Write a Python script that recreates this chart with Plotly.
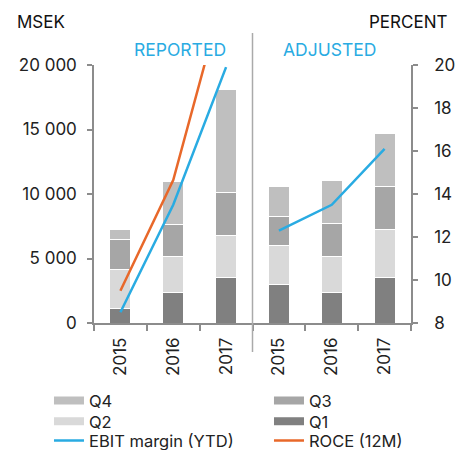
import plotly.graph_objects as go

years = ["2015", "2016", "2017"]
groups = ["REPORTED", "ADJUSTED"]

# MSEK per quarter, reported then adjusted
q1 = [1150, 2400, 3500, 2970, 2400, 3500]
q2 = [3000, 2720, 3280, 3000, 2720, 3720]
q3 = [2300, 2550, 3330, 2300, 2580, 3360]
q4 = [800, 3330, 7960, 2330, 3330, 4080]

# Percent
ebit_reported = [8.5, 13.5, 19.9]
roce_reported = [9.5, 14.65, 23.7]
ebit_adjusted = [12.3, 13.5, 16.1]

tick_labels = years * len(groups)
pos = list(range(len(tick_labels)))
rep_pos = pos[:len(years)]
adj_pos = pos[len(years):]
divider = (rep_pos[-1] + adj_pos[0]) / 2

C_Q1, C_Q2, C_Q3, C_Q4 = "#808080", "#d9d9d9", "#a6a6a6", "#bfbfbf"
BLUE, ORANGE = "#29abe2", "#e8682a"
FONT = "Inter"

fig = go.Figure()
for name, vals, col in [("Q1", q1, C_Q1), ("Q2", q2, C_Q2), ("Q3", q3, C_Q3), ("Q4", q4, C_Q4)]:
    fig.add_trace(go.Bar(x=pos, y=vals, name=name, marker=dict(color=col, line=dict(color="white", width=1)),
                         width=0.4, showlegend=False, yaxis="y"))

fig.add_trace(go.Scatter(x=rep_pos, y=ebit_reported, mode="lines", line=dict(color=BLUE, width=2.5),
                         showlegend=False, yaxis="y2"))
fig.add_trace(go.Scatter(x=rep_pos, y=roce_reported, mode="lines", line=dict(color=ORANGE, width=2.5),
                         showlegend=False, yaxis="y2"))
fig.add_trace(go.Scatter(x=adj_pos, y=ebit_adjusted, mode="lines", line=dict(color=BLUE, width=2.5),
                         showlegend=False, yaxis="y2"))

# legend entries: one small legend per entry, laid out as a 2-column grid
legend_items = [("Q4", C_Q4, 8), ("Q3", C_Q3, 8), ("Q2", C_Q2, 8), ("Q1", C_Q1, 8),
                ("EBIT margin (YTD)", BLUE, 2.5), ("ROCE (12M)", ORANGE, 2.5)]
col_x = [-0.142, 0.552]
row_y = [-0.234, -0.314, -0.389]
legend_layout = {}
for i, (name, col, w) in enumerate(legend_items):
    key = "legend" if i == 0 else f"legend{i + 1}"
    fig.add_trace(go.Scatter(x=[None], y=[None], mode="lines", name=name, line=dict(color=col, width=w),
                             yaxis="y2", legend=key))
    legend_layout[key] = dict(x=col_x[i % 2], y=row_y[i // 2], xanchor="left", yanchor="top",
                              orientation="v", font=dict(size=16.5, color="#222"), itemwidth=30,
                              bgcolor="rgba(0,0,0,0)")

axis_col = "#8c8c8c"
fig.update_layout(
    width=463, height=450,
    margin=dict(l=94, r=52, t=65, b=127, autoexpand=False),
    barmode="stack",
    paper_bgcolor="white", plot_bgcolor="white",
    separators=". ",
    font=dict(family=FONT, size=17, color="#222"),
    xaxis=dict(range=[-0.5, len(pos) - 0.5], tickmode="array", tickvals=pos, ticktext=tick_labels,
               tickangle=-90, showline=True, linecolor=axis_col, linewidth=1.5, showgrid=False, zeroline=False,
               ticks="outside", ticklen=6, tickcolor="rgba(0,0,0,0)",
               minor=dict(tickmode="array", tickvals=[p - 0.5 for p in pos] + [pos[-1] + 0.5],
                          ticks="outside", ticklen=6, tickcolor=axis_col, tickwidth=1.5, showgrid=False),
               tickfont=dict(size=17)),
    yaxis=dict(range=[0, 20000], tickvals=[0, 5000, 10000, 15000, 20000], tickformat=",",
               showline=True, linecolor=axis_col, linewidth=1.5, ticks="outside", ticklen=5,
               tickcolor=axis_col, tickwidth=1.5, showgrid=False, zeroline=False, ticklabelstandoff=7),
    yaxis2=dict(range=[8, 20], dtick=2, tick0=8, overlaying="y", side="right",
                showline=True, linecolor=axis_col, linewidth=1.5, ticks="outside", ticklen=5,
                tickcolor=axis_col, tickwidth=1.5, showgrid=False, zeroline=False, ticklabelstandoff=13),
    showlegend=True,
    **legend_layout,
)

fig.add_shape(type="line", xref="x", yref="paper", x0=divider, x1=divider, y0=-0.112, y1=1.124,
              line=dict(color="#aaaaaa", width=1.5))

fig.add_annotation(text="MSEK", xref="paper", yref="paper", x=-0.25, y=1.167, xanchor="left",
                   yanchor="middle", showarrow=False, font=dict(size=17, color="#111"))
fig.add_annotation(text="PERCENT", xref="paper", yref="paper", x=1.12, y=1.167, xanchor="right",
                   yanchor="middle", showarrow=False, font=dict(size=17, color="#111"))
fig.add_annotation(text=groups[0], xref="x", yref="paper", x=sum(rep_pos) / len(rep_pos) + 0.13, y=1.062,
                   xanchor="center", yanchor="middle", showarrow=False, font=dict(size=17.5, color=BLUE))
fig.add_annotation(text=groups[1], xref="x", yref="paper", x=sum(adj_pos) / len(adj_pos) - 0.045, y=1.062,
                   xanchor="center", yanchor="middle", showarrow=False, font=dict(size=17.5, color=BLUE))

fig.write_html("out.html", config={"displayModeBar": False},
               post_script="document.body.style.margin='0px';")
